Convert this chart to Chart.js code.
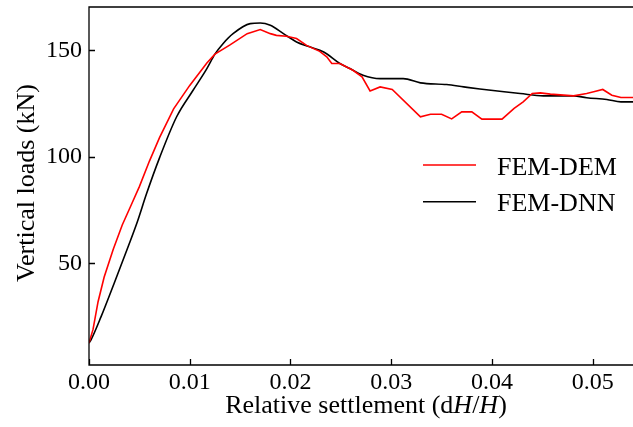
<!DOCTYPE html>
<html>
<head>
<meta charset="utf-8">
<script src="https://cdn.jsdelivr.net/npm/chart.js@4"></script>
<style>
  html, body { margin: 0; padding: 0; background: #fff; }
  #wrap { width: 633px; height: 427px; position: relative; }
</style>
</head>
<body>
<div id="wrap"><canvas id="c"></canvas></div>
<script>
// 数据：曲线点
const xTicks = [0, 0.01, 0.02, 0.03, 0.04, 0.05];
const yTicks = [50, 100, 150];

const demX = [0, 0.0004, 0.0009, 0.0015, 0.0024, 0.0033, 0.0042, 0.005, 0.006, 0.007, 0.0084, 0.01, 0.0117, 0.0125, 0.014, 0.0157, 0.017, 0.018, 0.0186, 0.0196, 0.0206, 0.0216, 0.0229, 0.0236, 0.0241, 0.0249, 0.0262, 0.0271, 0.0279, 0.0289, 0.0301, 0.0329, 0.0339, 0.035, 0.036, 0.037, 0.038, 0.039, 0.041, 0.0422, 0.0431, 0.044, 0.0448, 0.0458, 0.0481, 0.0494, 0.0501, 0.051, 0.0519, 0.0528, 0.054];
const demY = [12.6, 19, 32, 43.5, 56.5, 68, 77.5, 86, 98, 109, 122.5, 133.5, 144, 148.2, 152.5, 157.8, 159.7, 157.8, 157, 156.6, 155.5, 152.3, 149.5, 146.9, 143.8, 143.8, 140.6, 137.5, 130.9, 132.8, 131.6, 118.8, 120, 120, 117.8, 121.1, 121.1, 117.7, 117.7, 122.7, 125.8, 129.7, 130, 129.4, 128.6, 129.7, 130.5, 131.6, 128.9, 127.8, 127.8];

const dnnX = [0, 0.0002, 0.0012, 0.0025, 0.0039, 0.0048, 0.0057, 0.007, 0.0087, 0.0103, 0.0117, 0.0125, 0.0133, 0.0143, 0.016, 0.017, 0.018, 0.0193, 0.0206, 0.0219, 0.0233, 0.0249, 0.0259, 0.0272, 0.0289, 0.0312, 0.0329, 0.0355, 0.0372, 0.0388, 0.0412, 0.0428, 0.0451, 0.0481, 0.0494, 0.0514, 0.0528, 0.054];
const dnnY = [12.6, 14.1, 25, 40.7, 58, 69.5, 82.5, 99.5, 118.8, 131, 141.4, 148.2, 153.1, 157.8, 162.5, 162.8, 161.7, 157.8, 153.9, 151.6, 149.2, 143.8, 141.4, 138.3, 136.7, 136.7, 134.7, 133.9, 132.8, 131.8, 130.5, 129.7, 128.6, 128.6, 127.7, 126.9, 125.8, 125.8];

const FONT = '"Liberation Serif", "Times New Roman", serif';
const zip = (xs, ys) => xs.map((x, i) => ({ x, y: ys[i] }));

// 边框、内向刻度、图例与轴标题
const decor = {
  id: 'decor',
  afterDraw(chart) {
    const { ctx, chartArea: a, scales } = chart;
    ctx.save();
    ctx.strokeStyle = '#000';
    ctx.lineWidth = 1.3;
    ctx.beginPath();
    ctx.moveTo(a.right, a.top);
    ctx.lineTo(a.left, a.top);
    ctx.lineTo(a.left, a.bottom);
    ctx.lineTo(a.right, a.bottom);
    xTicks.forEach(v => {
      const px = Math.round(scales.x.getPixelForValue(v)) + 0.5;
      ctx.moveTo(px, a.bottom);
      ctx.lineTo(px, a.bottom - 6);
    });
    yTicks.forEach(v => {
      const py = Math.round(scales.y.getPixelForValue(v)) + 0.5;
      ctx.moveTo(a.left, py);
      ctx.lineTo(a.left + 6, py);
    });
    ctx.stroke();

    // 图例
    const ly = [165, 201.7];
    chart.data.datasets.forEach((ds, i) => {
      ctx.strokeStyle = ds.borderColor;
      ctx.lineWidth = 1.6;
      ctx.beginPath();
      ctx.moveTo(423, ly[i]);
      ctx.lineTo(476, ly[i]);
      ctx.stroke();
      ctx.fillStyle = '#000';
      ctx.font = '26px ' + FONT;
      ctx.textBaseline = 'alphabetic';
      ctx.textAlign = 'left';
      ctx.fillText(ds.label, 497, ly[i] + 9.5);
    });

    // x 轴标题（H 为斜体）
    const parts = [['Relative settlement (d', ''], ['H', 'italic '], ['/', ''], ['H', 'italic '], [')', '']];
    let w = 0;
    parts.forEach(p => { ctx.font = p[1] + '26px ' + FONT; w += ctx.measureText(p[0]).width; });
    let x = 366 - w / 2;
    parts.forEach(p => {
      ctx.font = p[1] + '26px ' + FONT;
      ctx.fillText(p[0], x, 413);
      x += ctx.measureText(p[0]).width;
    });

    // y 轴标题
    ctx.translate(34, 183);
    ctx.rotate(-Math.PI / 2);
    ctx.font = '26px ' + FONT;
    ctx.textAlign = 'center';
    ctx.fillText('Vertical loads (kN)', 0, 0);
    ctx.restore();
  }
};

new Chart(document.getElementById('c'), {
  type: 'line',
  data: {
    datasets: [
      { label: 'FEM-DEM', data: zip(demX, demY), borderColor: '#ff0000', borderWidth: 1.6, pointRadius: 0, tension: 0 },
      { label: 'FEM-DNN', data: zip(dnnX, dnnY), borderColor: '#000000', borderWidth: 1.6, pointRadius: 0, cubicInterpolationMode: 'monotone' }
    ]
  },
  options: {
    responsive: true,
    maintainAspectRatio: false,
    animation: false,
    layout: { padding: { top: 7, right: 0, left: 0, bottom: 0 } },
    plugins: { legend: { display: false }, tooltip: { enabled: false } },
    scales: {
      x: {
        type: 'linear',
        min: 0,
        max: 0.054,
        afterBuildTicks: s => { s.ticks = xTicks.map(v => ({ value: v })); },
        afterFit: s => { s.height = 62; s.paddingLeft = 0; s.paddingRight = 0; },
        grid: { display: false, drawTicks: false },
        border: { display: false },
        ticks: { color: '#000', padding: 3, maxRotation: 0, font: { family: FONT, size: 24 }, callback: v => v.toFixed(2) }
      },
      y: {
        type: 'linear',
        min: 2.3,
        max: 170.3,
        afterBuildTicks: s => { s.ticks = yTicks.map(v => ({ value: v })); },
        afterFit: s => { s.width = 89; s.paddingTop = 0; s.paddingBottom = 0; },
        grid: { display: false, drawTicks: false },
        border: { display: false },
        ticks: { color: '#000', padding: 7, font: { family: FONT, size: 24 } }
      }
    }
  },
  plugins: [decor]
});
</script>
</body>
</html>
